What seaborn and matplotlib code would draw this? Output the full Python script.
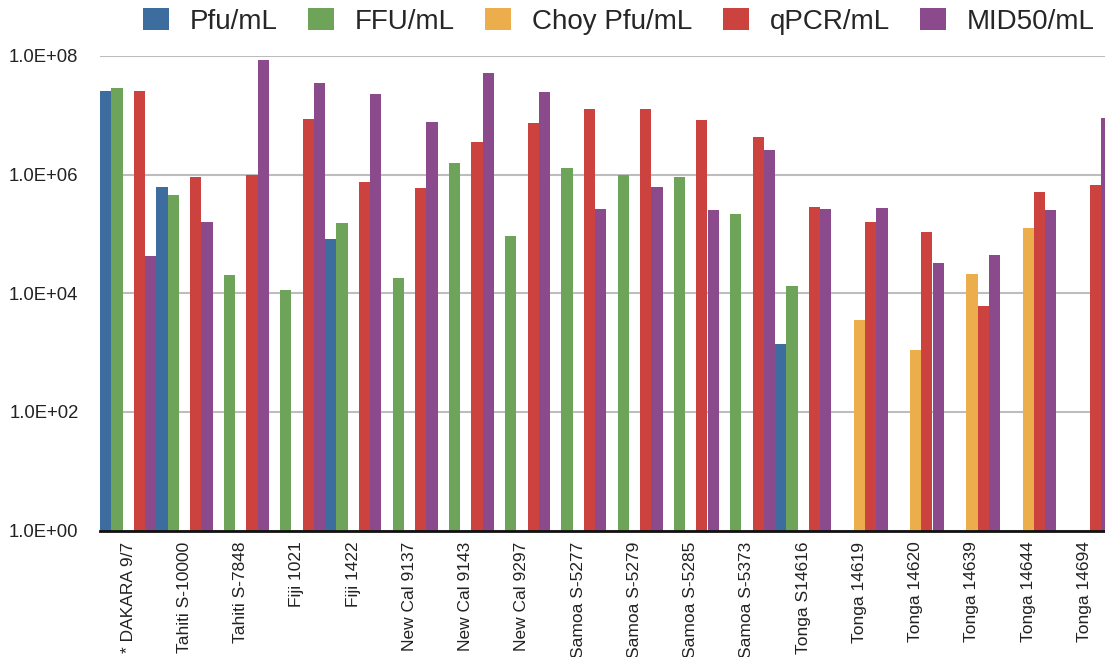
import numpy as np
import pandas as pd
import matplotlib
matplotlib.use("Agg")
import matplotlib.pyplot as plt
import seaborn as sns

categories = ["* DAKARA 9/7", "Tahiti S-10000", "Tahiti S-7848", "Fiji 1021", "Fiji 1422",
              "New Cal 9137", "New Cal 9143", "New Cal 9297", "Samoa S-5277", "Samoa S-5279",
              "Samoa S-5285", "Samoa S-5373", "Tonga S14616", "Tonga 14619", "Tonga 14620",
              "Tonga 14639", "Tonga 14644", "Tonga 14694"]
nan = np.nan
pfu = [2.6e7, 6.1e5, nan, nan, 8.1e4, nan, nan, nan, nan, nan, nan, nan, 1.4e3,
       nan, nan, nan, nan, nan]
ffu = [2.9e7, 4.6e5, 2.0e4, 1.15e4, 1.5e5, 1.8e4, 1.55e6, 9.4e4, 1.3e6, 9.8e5, 9.0e5, 2.2e5,
       1.35e4, nan, nan, nan, nan, nan]
choy = [nan, nan, nan, nan, nan, nan, nan, nan, nan, nan, nan, nan, nan,
        3.5e3, 1.1e3, 2.15e4, 1.24e5, nan]
qpcr = [2.6e7, 9.0e5, 9.8e5, 8.5e6, 7.4e5, 5.9e5, 3.6e6, 7.4e6, 1.27e7, 1.27e7, 8.3e6, 4.3e6,
        2.8e5, 1.56e5, 1.06e5, 6.2e3, 5.0e5, 6.6e5]
mid50 = [4.2e4, 1.6e5, 8.5e7, 3.5e7, 2.3e7, 7.6e6, 5.1e7, 2.5e7, 2.6e5, 6.1e5, 2.5e5, 2.6e6,
         2.6e5, 2.7e5, 3.2e4, 4.5e4, 2.5e5, 8.9e6]
series_names = ["Pfu/mL", "FFU/mL", "Choy Pfu/mL", "qPCR/mL", "MID50/mL"]
series_values = [pfu, ffu, choy, qpcr, mid50]
y_ticks = [1e0, 1e2, 1e4, 1e6, 1e8]
y_tick_labels = ["1.0E+00", "1.0E+02", "1.0E+04", "1.0E+06", "1.0E+08"]

colors = ["#3D6C9E", "#6DA45A", "#ECAE4C", "#CB423F", "#8A4A8C"]

rows = []
for name, vals in zip(series_names, series_values):
    for cat, v in zip(categories, vals):
        rows.append({"strain": cat, "series": name, "value": v})
df = pd.DataFrame(rows)

sns.set_theme(style="white")
plt.rcParams["font.family"] = ["Liberation Sans", "DejaVu Sans"]

W, H = 1105, 657
fig = plt.figure(figsize=(W / 100, H / 100), dpi=100)
left_px, right_px, top_px, bottom_px = 100, 1112.5, 56, 530.5
ax = fig.add_axes([left_px / W, (H - bottom_px) / H, (right_px - left_px) / W, (bottom_px - top_px) / H])

sns.barplot(data=df, x="strain", y="value", hue="series", order=categories,
            hue_order=series_names, palette=dict(zip(series_names, colors)),
            width=1.0, gap=0, saturation=1, ax=ax, errorbar=None, legend=True,
            linewidth=0, edgecolor="none")
ax.set_yscale("log")
ax.set_ylim(1, 1e8)
ax.set_xlim(-0.5, len(categories) - 0.5)
ax.set_yticks(y_ticks)
ax.set_yticklabels(y_tick_labels)
ax.minorticks_off()
ax.yaxis.grid(True, color="#BDBDBD", linewidth=1.5)
ax.set_axisbelow(True)
for s in ["top", "right", "left"]:
    ax.spines[s].set_visible(False)
ax.spines["bottom"].set_color("#111111")
ax.spines["bottom"].set_linewidth(2)
ax.spines["bottom"].set_zorder(5)
ax.set_xlabel("")
ax.set_ylabel("")
ax.tick_params(axis="y", length=0, pad=15.5, labelsize=13.3, labelcolor="#222222")
ax.tick_params(axis="x", length=0, pad=8, labelsize=12.5, labelcolor="#222222")
for lab in ax.get_xticklabels():
    lab.set_rotation(90)
    lab.set_va("top")
    lab.set_ha("center")

handles, labels = ax.get_legend_handles_labels()
ax.get_legend().remove()
fig.legend(handles, labels, loc="upper left", bbox_to_anchor=(143 / W, 1 - 8 / H),
           ncol=5, frameon=False, fontsize=20, handlelength=0.93, handleheight=0.86,
           handletextpad=0.75, columnspacing=1.1, borderaxespad=0, borderpad=0)

fig.savefig("out.png", dpi=100)
